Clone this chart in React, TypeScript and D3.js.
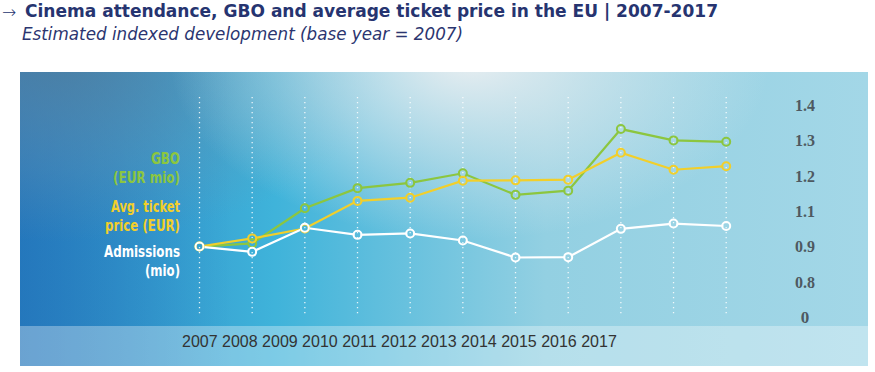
import * as d3 from "d3";

const years = [2007, 2008, 2009, 2010, 2011, 2012, 2013, 2014, 2015, 2016, 2017];
const admissions = [1.0, 0.985, 1.053, 1.033, 1.037, 1.017, 0.969, 0.97, 1.05, 1.065, 1.058];
const gbo = [1.0, 1.009, 1.108, 1.165, 1.18, 1.207, 1.146, 1.158, 1.332, 1.3, 1.296];
const ticketPrice = [1.0, 1.023, 1.051, 1.129, 1.138, 1.186, 1.187, 1.189, 1.265, 1.217, 1.227];

// the printed axis skips "1.0" and ends in "0"; labels kept as printed
const yTicks = [1.4, 1.3, 1.2, 1.1, 1.0, 0.9, 0.8];
const yTickLabels = ["1.4", "1.3", "1.2", "1.1", "0.9", "0.8", "0"];

const series = [
  { name: "gbo", values: gbo, color: "#8cc63f" },
  { name: "price", values: ticketPrice, color: "#f2cf2a" },
  { name: "admissions", values: admissions, color: "#ffffff" },
];

const legend = [
  { lines: ["GBO", "(EUR mio)"], widths: [29, 67], color: "#8cc63f", y: 164 },
  { lines: ["Avg. ticket", "price (EUR)"], widths: [69, 75], color: "#f2cf2a", y: 212 },
  { lines: ["Admissions", "(mio)"], widths: [76, 35], color: "#ffffff", y: 257 },
];

const W = 875;
const H = 372;
const panel = { x: 20, y: 72, w: 848, h: 254, band: 40 };

export default function App() {
  const x = d3.scaleLinear().domain([2007, 2017]).range([199.5, 726.2]);
  const y = d3.scaleLinear().domain([0.8, 1.4]).range([317.3, 105]);

  const line = d3
    .line<number>()
    .x((_, i) => x(years[i]))
    .y((d) => y(d));

  const narrow = "'Liberation Sans Narrow', 'DejaVu Sans Condensed', sans-serif";
  const full = { x: panel.x, y: panel.y, width: panel.w, height: panel.h + panel.band };

  return (
    <svg
      width={W}
      height={H}
      style={{ position: "absolute", left: 0, top: 0, background: "#fff" }}
    >
      <defs>
        <linearGradient id="base" x1="0" y1="0" x2="1" y2="0">
          <stop offset="0" stopColor="#2a82c3" />
          <stop offset="0.3" stopColor="#3fb3da" />
          <stop offset="0.62" stopColor="#93d0e2" />
          <stop offset="1" stopColor="#a3d7e7" />
        </linearGradient>
        <radialGradient
          id="topShade"
          gradientUnits="userSpaceOnUse"
          cx={60}
          cy={60}
          r={330}
          gradientTransform="translate(60 60) scale(1 0.55) translate(-60 -60)"
        >
          <stop offset="0" stopColor="#557f9c" stopOpacity="0.75" />
          <stop offset="0.6" stopColor="#6d93ab" stopOpacity="0.3" />
          <stop offset="1" stopColor="#6d93ab" stopOpacity="0" />
        </radialGradient>
        <radialGradient
          id="glow"
          gradientUnits="userSpaceOnUse"
          cx={470}
          cy={60}
          r={300}
          gradientTransform="translate(470 60) scale(1 0.6) translate(-470 -60)"
        >
          <stop offset="0" stopColor="#e8eef1" stopOpacity="1" />
          <stop offset="0.5" stopColor="#dce9ee" stopOpacity="0.55" />
          <stop offset="1" stopColor="#dce9ee" stopOpacity="0" />
        </radialGradient>
        <linearGradient id="leftDeep" x1="0" y1="0" x2="1" y2="0">
          <stop offset="0" stopColor="#1f6db5" stopOpacity="0.5" />
          <stop offset="0.25" stopColor="#1f6db5" stopOpacity="0" />
        </linearGradient>
        <mask id="holes">
          <rect x={0} y={0} width={W} height={H} fill="white" />
          {series.map((s) =>
            s.values.map((v, i) => (
              <circle key={s.name + i} cx={x(years[i])} cy={y(v)} r={3} fill="black" />
            ))
          )}
        </mask>
      </defs>

      {/* title */}
      <text x={2} y={18} fontFamily="DejaVu Sans" fontWeight="200" fontSize={17} fill="#263470">
        →
      </text>
      <text
        x={25}
        y={17}
        fontFamily="DejaVu Sans"
        fontWeight="bold"
        fontSize={18}
        fill="#263470"
        textLength={693}
        lengthAdjust="spacingAndGlyphs"
      >
        Cinema attendance, GBO and average ticket price in the EU | 2007-2017
      </text>
      <text
        x={22}
        y={40}
        fontFamily="DejaVu Sans"
        fontStyle="italic"
        fontSize={17}
        fill="#2b3570"
        textLength={441}
        lengthAdjust="spacingAndGlyphs"
      >
        Estimated indexed development (base year = 2007)
      </text>

      {/* background panel */}
      <g>
        <rect {...full} fill="url(#base)" />
        <rect {...full} fill="url(#leftDeep)" />
        <rect {...full} fill="url(#topShade)" />
        <rect {...full} fill="url(#glow)" />
        <rect
          x={panel.x}
          y={panel.y + panel.h}
          width={panel.w}
          height={panel.band}
          fill="#ffffff"
          fillOpacity={0.32}
        />
      </g>

      {/* dotted year guides */}
      {years.map((yr) => (
        <line
          key={yr}
          x1={x(yr)}
          x2={x(yr)}
          y1={97}
          y2={315}
          stroke="#ffffff"
          strokeOpacity={0.85}
          strokeWidth={1.3}
          strokeDasharray="1.3 3.7"
        />
      ))}

      {/* right axis labels */}
      {yTicks.map((t, i) => (
        <text
          key={t}
          x={805}
          y={y(t)}
          dy="0.35em"
          textAnchor="middle"
          fontFamily="'Liberation Serif', serif"
          fontWeight="bold"
          fontSize={17}
          fill="#4e5961"
          textLength={yTickLabels[i].length > 1 ? 20 : undefined}
          lengthAdjust="spacingAndGlyphs"
        >
          {yTickLabels[i]}
        </text>
      ))}

      {/* year labels in the band */}
      <text x={182} y={347} fontFamily="'Liberation Sans', Arial, sans-serif" fontSize={16} fill="#333">
        {years.join(" ")}
      </text>

      {/* legend */}
      {legend.map((l) =>
        l.lines.map((ln, j) => (
          <text
            key={ln}
            x={180}
            y={l.y + j * 19}
            textAnchor="end"
            fontFamily={narrow}
            fontWeight="600"
            fontSize={16}
            fill={l.color}
            textLength={l.widths[j]}
            lengthAdjust="spacingAndGlyphs"
          >
            {ln}
          </text>
        ))
      )}

      {/* series */}
      <g mask="url(#holes)">
        {series.map((s) => (
          <path key={s.name} d={line(s.values) ?? ""} fill="none" stroke={s.color} strokeWidth={2.2} />
        ))}
      </g>
      {series.map((s) =>
        s.values.map((v, i) => (
          <circle
            key={s.name + "c" + i}
            cx={x(years[i])}
            cy={y(v)}
            r={4}
            fill="none"
            stroke={s.color}
            strokeWidth={2}
          />
        ))
      )}
    </svg>
  );
}
